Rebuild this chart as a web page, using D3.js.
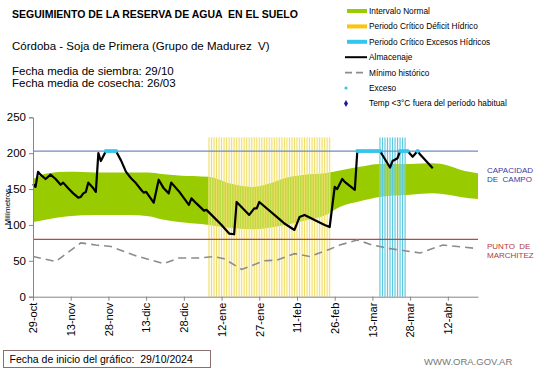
<!DOCTYPE html>
<html>
<head>
<meta charset="utf-8">
<script src="https://cdn.jsdelivr.net/npm/d3@7"></script>
<style>
body { margin: 0; background: #fff; }
svg { font-family: "Liberation Sans", Arial, sans-serif; }
</style>
</head>
<body>
<div id="container"></div>
<script>
//DATA (days counted from 29/10/2024)
const tickDays = [0, 15, 30, 45, 60, 75, 90, 105, 120, 135, 150, 165]
const tickLabels = ['29-oct', '13-nov', '28-nov', '13-dic', '28-dic', '12-ene', '27-ene', '11-feb', '26-feb', '13-mar', '28-mar', '12-abr']
const yTicks = [0, 50, 100, 150, 200, 250]

//intervalo normal
const bandDays = [0, 6, 14, 25, 38, 46, 51, 58, 70, 78, 87, 96, 100, 108, 116, 122, 130, 138, 150, 159, 165, 170, 177]
const bandLow = [104, 108, 112, 114, 114, 112, 108, 104, 100, 96, 94, 97, 100, 106, 113, 125, 133, 139, 142, 144, 142, 139, 136]
const bandHigh = [164, 172, 174, 173, 173, 173, 171, 169, 167, 158, 153, 160, 165, 170, 172, 176, 181, 185, 185, 186, 183, 177, 172]

//almacenaje
const storeDays = [0, 1, 2, 3, 5, 7, 9, 11, 12, 14, 16, 18, 19, 20, 21, 22, 24, 25, 26, 27, 29, 33, 35, 37, 39, 41, 43, 44, 45, 48, 50, 52, 54, 55, 58, 62, 63, 65, 68, 69, 71, 75, 78, 80, 81, 86, 88, 89, 90, 98, 100, 104, 106, 108, 116, 118, 120, 121, 123, 124, 128, 129, 138, 142, 143, 145, 146, 149, 151, 153, 154, 159]
const storeVals = [157, 153, 174, 170, 164, 170, 164, 156, 159, 151, 144, 138, 139, 144, 146, 159, 151, 146, 200, 189, 203, 203, 190, 174, 165, 158, 149, 145, 146, 131, 163, 151, 144, 159, 147, 128, 137, 130, 120, 121, 114, 100, 88, 87, 132, 114, 123, 123, 132, 108, 102, 93, 111, 114, 100, 97, 153, 150, 164, 160, 149, 203, 203, 180, 189, 193, 203, 203, 195, 203, 198, 179]

//minimo historico
const minDays = [0, 9, 19, 25, 31, 40, 52, 58, 66, 72, 76, 83, 92, 97, 104, 110, 118, 122, 129, 135, 142, 154, 163, 177]
const minVals = [56, 49, 75, 72, 70, 58, 46, 54, 54, 56, 53, 38, 50, 51, 60, 56, 66, 72, 79, 72, 67, 61, 72, 67]

//exceso (days at field capacity)
const excesoDays = [29, 30, 31, 32, 33, 129, 130, 131, 132, 133, 134, 135, 136, 137, 138, 146, 147, 148, 149, 153]

//critical periods
const deficitPeriod = [70, 118]
const excessPeriod = [138, 148]
const periodTop = 222

const capacidad = 203
const marchitez = 80

const legendItems = ['Intervalo Normal', 'Periodo Crítico Déficit Hídrico', 'Periodo Crítico Excesos Hídricos', 'Almacenaje', 'Mínimo histórico', 'Exceso', 'Temp <3°C fuera del período habitual']

//BOX
const w = 541
const h = 368
const plotLeft = 33
const plotRight = 478
const plotTop = 117.3
const plotBottom = 296.7

const svg = d3.select('#container')
    .append('svg')
    .attr('width', w)
    .attr('height', h)

//SCALES
const x = d3.scaleLinear().domain([0, 177]).range([plotLeft, plotRight])
const y = d3.scaleLinear().domain([0, 250]).range([plotBottom, plotTop])

//NORMAL BAND
const band = bandDays.map((d, i) => [d, bandLow[i], bandHigh[i]])
svg.append('path')
    .datum(band)
    .attr('fill', '#99cc00')
    .attr('d', d3.area()
        .x(d => x(d[0]))
        .y0(d => y(d[1]))
        .y1(d => y(d[2]))
        .curve(d3.curveMonotoneX))

//CRITICAL PERIODS
function period(range, fill, stroke, op, sw) {
    const g = svg.append('g')
    g.append('rect')
        .attr('x', x(range[0]) - 1)
        .attr('y', y(periodTop))
        .attr('width', x(range[1]) - x(range[0]) + 2)
        .attr('height', y(0) - y(periodTop))
        .attr('fill', fill)
        .attr('opacity', op)
    g.selectAll('line')
        .data(d3.range(range[0], range[1] + 1))
        .enter()
        .append('line')
        .attr('x1', d => x(d))
        .attr('x2', d => x(d))
        .attr('y1', y(periodTop))
        .attr('y2', y(0))
        .attr('stroke', stroke)
        .attr('stroke-width', sw)
}
period(deficitPeriod, '#fcf4c4', '#f0de66', 0.35, 1)
period(excessPeriod, '#e2f5f9', '#5ac9e2', 0.3, 1.1)

//REFERENCE LINES
svg.append('line')
    .attr('x1', plotLeft).attr('x2', plotRight)
    .attr('y1', y(capacidad)).attr('y2', y(capacidad))
    .attr('stroke', '#6d8cc4')
    .attr('stroke-width', 1.2)

svg.append('line')
    .attr('x1', plotLeft).attr('x2', plotRight)
    .attr('y1', y(marchitez)).attr('y2', y(marchitez))
    .attr('stroke', '#b24a4a')
    .attr('stroke-width', 1.2)

//MINIMO HISTORICO
svg.append('path')
    .datum(minDays.map((d, i) => [d, minVals[i]]))
    .attr('fill', 'none')
    .attr('stroke', '#8c8c8c')
    .attr('stroke-width', 1.6)
    .attr('stroke-dasharray', '8,5')
    .attr('d', d3.line().x(d => x(d[0])).y(d => y(d[1])))

//ALMACENAJE
svg.append('path')
    .datum(storeDays.map((d, i) => [d, storeVals[i]]))
    .attr('fill', 'none')
    .attr('stroke', '#000')
    .attr('stroke-width', 2.2)
    .attr('stroke-linejoin', 'round')
    .attr('d', d3.line().x(d => x(d[0])).y(d => y(d[1])))

//EXCESO
svg.append('g')
    .selectAll('circle')
    .data(excesoDays)
    .enter()
    .append('circle')
    .attr('cx', d => x(d))
    .attr('cy', y(capacidad))
    .attr('r', 2)
    .attr('fill', '#33c6ee')

//AXES
const yaxis = svg.append('g')
    .attr('transform', 'translate(' + plotLeft + ',0)')
    .call(d3.axisLeft(y).tickValues(yTicks).tickSize(4).tickPadding(3))
yaxis.selectAll('path, line').attr('stroke', '#868686')
yaxis.selectAll('text').attr('font-size', 11.5).attr('fill', '#000').attr('font-family', '"Liberation Sans", Arial, sans-serif')

const xaxis = svg.append('g')
    .attr('transform', 'translate(0,' + plotBottom + ')')
    .call(d3.axisBottom(x).tickValues(tickDays).tickFormat((d, i) => tickLabels[i]).tickSize(4).tickSizeOuter(0))
xaxis.selectAll('path, line').attr('stroke', '#868686')
xaxis.selectAll('text')
    .attr('font-size', 11)
    .attr('fill', '#000')
    .attr('font-family', '"Liberation Sans", Arial, sans-serif')
    .attr('transform', 'rotate(-90)')
    .attr('text-anchor', 'end')
    .attr('x', -6)
    .attr('y', 0)
    .attr('dy', '0.35em')

svg.append('text')
    .attr('transform', 'translate(10,207) rotate(-90)')
    .attr('text-anchor', 'middle')
    .attr('font-size', 8)
    .text('Milímetros')

//TITLES
svg.append('text')
    .attr('x', 12).attr('y', 18)
    .attr('font-size', 10.5)
    .attr('font-weight', 'bold')
    .style('white-space', 'pre')
    .text('SEGUIMIENTO DE LA RESERVA DE AGUA  EN EL SUELO')

svg.append('text')
    .attr('x', 12).attr('y', 50)
    .attr('font-size', 11.5)
    .style('white-space', 'pre')
    .text('Córdoba - Soja de Primera (Grupo de Madurez  V)')

svg.append('text').attr('x', 12).attr('y', 75).attr('font-size', 11.5).text('Fecha media de siembra: 29/10')
svg.append('text').attr('x', 12).attr('y', 87).attr('font-size', 11.5).text('Fecha media de cosecha: 26/03')

//LEGEND
const legend = svg.append('g').attr('font-size', 8.3)
legendItems.forEach((t, i) => {
    const ly = 11 + i * 15.4
    legend.append('text').attr('x', 369).attr('y', ly + 3).text(t)
    if (i < 3) {
        legend.append('rect').attr('x', 347).attr('y', ly - 2).attr('width', 20).attr('height', 4)
            .attr('fill', ['#99cc00', '#fcc40c', '#33c6ee'][i])
    } else if (i === 3) {
        legend.append('line').attr('x1', 345).attr('x2', 367).attr('y1', ly).attr('y2', ly)
            .attr('stroke', '#000').attr('stroke-width', 2)
    } else if (i === 4) {
        legend.append('line').attr('x1', 345).attr('x2', 367).attr('y1', ly).attr('y2', ly)
            .attr('stroke', '#8c8c8c').attr('stroke-width', 1.6).attr('stroke-dasharray', '7,4')
    } else if (i === 5) {
        legend.append('circle').attr('cx', 346).attr('cy', ly).attr('r', 1.6).attr('fill', '#33c6ee')
    } else {
        legend.append('path').attr('d', d3.symbol(d3.symbolDiamond, 14)())
            .attr('transform', 'translate(346,' + ly + ')').attr('fill', '#1a1a99')
    }
})

//SIDE LABELS
svg.append('text').attr('x', 487).attr('y', 173).attr('font-size', 8).attr('fill', '#3a3aa8').text('CAPACIDAD')
svg.append('text').attr('x', 487).attr('y', 182).attr('font-size', 8).attr('fill', '#3a3aa8').style('white-space', 'pre').text('DE  CAMPO')
svg.append('text').attr('x', 487).attr('y', 249).attr('font-size', 8).attr('fill', '#b03a3a').style('white-space', 'pre').text('PUNTO  DE')
svg.append('text').attr('x', 487).attr('y', 258).attr('font-size', 8).attr('fill', '#b03a3a').text('MARCHITEZ')

//FOOTER
svg.append('rect')
    .attr('x', 3.5).attr('y', 350.5)
    .attr('width', 207).attr('height', 17)
    .attr('fill', 'none')
    .attr('stroke', '#8a6f6f')
svg.append('text')
    .attr('x', 9.5).attr('y', 363)
    .attr('font-size', 10.5)
    .style('white-space', 'pre')
    .text('Fecha de inicio del gráfico:  29/10/2024')

svg.append('text')
    .attr('x', 424).attr('y', 365)
    .attr('font-size', 9.5)
    .attr('fill', '#777')
    .text('WWW.ORA.GOV.AR')
</script>
</body>
</html>
